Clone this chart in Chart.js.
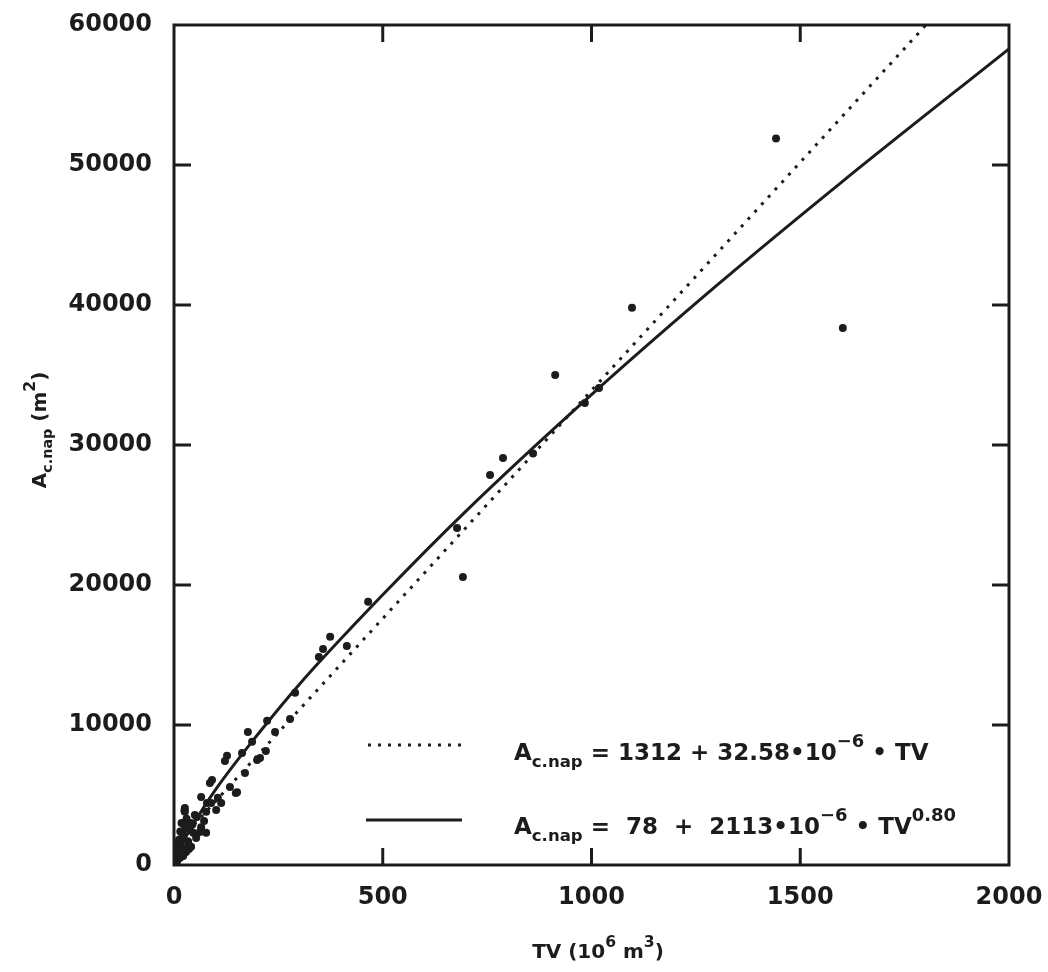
<!DOCTYPE html>
<html>
<head>
<meta charset="utf-8">
<script src="https://cdn.jsdelivr.net/npm/chart.js@4.4.0/dist/chart.umd.min.js"></script>
<style>
  html, body { margin: 0; padding: 0; background: #fff; }
  #wrap { width: 1048px; height: 972px; }
</style>
</head>
<body>
<div id="wrap"><canvas id="chart" width="1048" height="972"></canvas></div>
<script>
// observed reservoirs: total volume (10^6 m3) vs area
const obsTV = [1442, 1097, 1602, 913, 788, 757, 692, 678, 860, 984, 1018,
  465, 374, 357, 347, 414, 290, 278, 223, 177, 242, 187, 163, 127, 122, 220, 206, 199, 170,
  91, 151, 105, 79, 55, 86, 134, 148, 65, 89, 26, 26, 50, 77, 41, 65, 29, 22, 46, 77, 34,
  17, 41, 10, 29, 2, 14, 1, 7, 22, 36, 53, 62, 72, 101, 113,
  3, 5, 8, 12, 15, 20, 18, 24, 30, 38, 44, 33, 28, 4, 9, 13, 20, 25];
const obsA = [51900, 39800, 38350, 35000, 29070, 27850, 20570, 24070, 29400, 33000, 34070,
  18800, 16300, 15430, 14850, 15640, 12300, 10430, 10300, 9500, 9500, 8800, 8000, 7800, 7430, 8150, 7650, 7500, 6570,
  6070, 5200, 4800, 4430, 3430, 5850, 5570, 5150, 4860, 4430, 3800, 4070, 3570, 3800, 3000, 2700, 2640, 2150, 2300, 2300, 1650,
  1300, 1300, 860, 930, 360, 500, 100, 210, 640, 1150, 1930, 2360, 3150, 3930, 4430,
  700, 1000, 1500, 1800, 2400, 2000, 3000, 2900, 3300, 2500, 2900, 1700, 1200, 300, 600, 1100, 900, 3900];

// linear fit (dotted)
const linTV = [0, 1801];
const linA = [1312, 60000];

// power fit (solid)
const powTV = [0, 5, 20, 50, 100, 200, 300, 500, 700, 1000, 1300, 1600, 2000];
const powA = [80, 560, 1550, 3100, 5400, 9300, 12900, 19300, 25300, 33600, 41400, 48800, 58300];

const xTicks = [0, 500, 1000, 1500, 2000];
const yTicks = [0, 10000, 20000, 30000, 40000, 50000, 60000];

const INK = '#1c1c1c';
const FONT = '"DejaVu Sans", Arial, sans-serif';

const toXY = (xs, ys) => xs.map((x, i) => ({ x: x, y: ys[i] }));

// draws text pieces with sub/superscripts, returns end x
function drawRich(ctx, parts, x, y, size) {
  parts.forEach(p => {
    let s = size, dy = 0;
    if (p.sub) { s = size * 0.72; dy = size * 0.3; }
    if (p.sup) { s = size * 0.78; dy = -size * 0.55; }
    ctx.font = 'bold ' + s + 'px ' + FONT;
    ctx.fillText(p.t, x, y + dy);
    x += ctx.measureText(p.t).width;
  });
  return x;
}
function richWidth(ctx, parts, size) {
  let w = 0;
  parts.forEach(p => {
    const s = p.sub ? size * 0.72 : p.sup ? size * 0.78 : size;
    ctx.font = 'bold ' + s + 'px ' + FONT;
    w += ctx.measureText(p.t).width;
  });
  return w;
}

const decor = {
  id: 'decor',
  beforeDraw(chart) {
    const ctx = chart.ctx;
    ctx.save();
    ctx.fillStyle = '#fff';
    ctx.fillRect(0, 0, chart.width, chart.height);
    ctx.restore();
  },
  afterDraw(chart) {
    const ctx = chart.ctx;
    const a = chart.chartArea;
    const xs = chart.scales.x, ys = chart.scales.y;
    ctx.save();
    ctx.strokeStyle = INK;
    ctx.lineWidth = 3;
    ctx.strokeRect(a.left, a.top, a.right - a.left, a.bottom - a.top);
    // inward ticks
    ctx.beginPath();
    xTicks.slice(1, -1).forEach(v => {
      const px = xs.getPixelForValue(v);
      ctx.moveTo(px, a.bottom); ctx.lineTo(px, a.bottom - 17);
      ctx.moveTo(px, a.top); ctx.lineTo(px, a.top + 17);
    });
    yTicks.slice(1, -1).forEach(v => {
      const py = ys.getPixelForValue(v);
      ctx.moveTo(a.left, py); ctx.lineTo(a.left + 17, py);
      ctx.moveTo(a.right, py); ctx.lineTo(a.right - 17, py);
    });
    ctx.stroke();

    // legend
    ctx.fillStyle = INK;
    ctx.textBaseline = 'alphabetic';
    ctx.textAlign = 'left';
    ctx.lineWidth = 3;
    ctx.setLineDash([3, 7]);
    ctx.beginPath(); ctx.moveTo(368, 745); ctx.lineTo(462, 745); ctx.stroke();
    ctx.setLineDash([]);
    ctx.beginPath(); ctx.moveTo(366, 820); ctx.lineTo(462, 820); ctx.stroke();
    drawRich(ctx, [{ t: 'A' }, { t: 'c.nap', sub: true }, { t: ' = 1312 + 32.58•10' },
      { t: '−6', sup: true }, { t: ' • TV' }], 514, 760, 23);
    drawRich(ctx, [{ t: 'A' }, { t: 'c.nap', sub: true }, { t: ' =  78  +  2113•10' },
      { t: '−6', sup: true }, { t: ' • TV' }, { t: '0.80', sup: true }], 514, 834, 23);

    // axis titles
    const xt = [{ t: 'TV (10' }, { t: '6', sup: true }, { t: ' m' }, { t: '3', sup: true }, { t: ')' }];
    const xw = richWidth(ctx, xt, 20);
    drawRich(ctx, xt, 598 - xw / 2, 958, 20);
    const yt = [{ t: 'A' }, { t: 'c.nap', sub: true }, { t: ' (m' }, { t: '2', sup: true }, { t: ')' }];
    const yw = richWidth(ctx, yt, 20);
    ctx.translate(46, 430);
    ctx.rotate(-Math.PI / 2);
    drawRich(ctx, yt, -yw / 2, 0, 20);
    ctx.restore();
  }
};

new Chart(document.getElementById('chart'), {
  type: 'scatter',
  data: {
    datasets: [
      {
        data: toXY(obsTV, obsA),
        pointRadius: 4,
        pointBackgroundColor: INK,
        pointBorderWidth: 0,
        showLine: false
      },
      {
        data: toXY(linTV, linA),
        showLine: true,
        pointRadius: 0,
        borderColor: INK,
        borderWidth: 3,
        borderDash: [3, 7]
      },
      {
        data: toXY(powTV, powA),
        showLine: true,
        pointRadius: 0,
        borderColor: INK,
        borderWidth: 3,
        cubicInterpolationMode: 'monotone'
      }
    ]
  },
  options: {
    responsive: false,
    animation: false,
    layout: { padding: { top: 25, right: 39, left: 0, bottom: 0 } },
    plugins: { legend: { display: false }, tooltip: { enabled: false } },
    scales: {
      x: {
        min: 0, max: 2000,
        afterBuildTicks: s => { s.ticks = xTicks.map(v => ({ value: v })); },
        afterFit: s => { s.height = 107; s.paddingLeft = 0; s.paddingRight = 0; },
        grid: { display: false, drawTicks: false },
        border: { display: false },
        ticks: { color: INK, padding: 18, font: { family: FONT, size: 24, weight: 'bold' }, callback: v => String(v) }
      },
      y: {
        min: 0, max: 60000,
        afterBuildTicks: s => { s.ticks = yTicks.map(v => ({ value: v })); },
        afterFit: s => { s.width = 174; s.paddingTop = 0; s.paddingBottom = 0; },
        grid: { display: false, drawTicks: false },
        border: { display: false },
        ticks: { color: INK, padding: 22, font: { family: FONT, size: 24, weight: 'bold' }, callback: v => String(v) }
      }
    }
  },
  plugins: [decor]
});
</script>
</body>
</html>
